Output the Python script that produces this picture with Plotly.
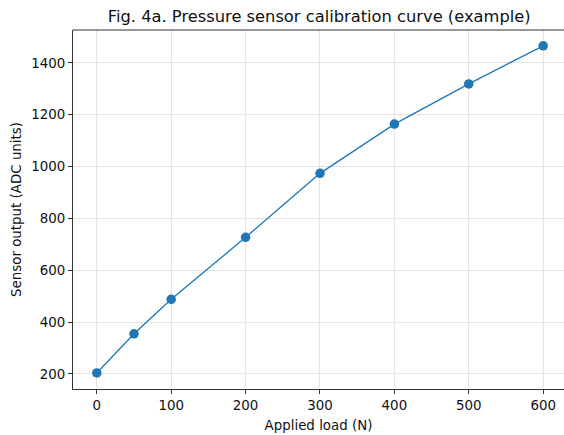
import plotly.graph_objects as go

load_n = [0, 50, 100, 200, 300, 400, 500, 600]
adc_out = [204, 355, 488, 727, 974, 1164, 1319, 1466]
x_ticks = [0, 100, 200, 300, 400, 500, 600]
y_ticks = [200, 400, 600, 800, 1000, 1200, 1400]

fig = go.Figure()
fig.add_trace(go.Scatter(
    x=load_n, y=adc_out, mode="lines+markers",
    line=dict(color="#1f77b4", width=1.3),
    marker=dict(color="#1f77b4", size=9.5),
    showlegend=False,
))

font = "DejaVu Sans, sans-serif"
fig.update_layout(
    width=564, height=435,
    margin=dict(l=73, r=0, t=30, b=46, autoexpand=False),
    paper_bgcolor="white", plot_bgcolor="white",
    font=dict(family=font, size=13.4, color="#111"),
    title=dict(text="Fig. 4a. Pressure sensor calibration curve (example)",
               x=0.566, xanchor="center", y=0.963, yanchor="middle",
               font=dict(size=16.3, color="#111")),
)
fig.update_xaxes(
    range=[-32, 628], tickvals=x_ticks, ticks="outside", ticklen=4, tickcolor="#333",
    showline=True, linecolor="#333", linewidth=1, mirror=False, automargin=False,
    showgrid=True, gridcolor="#e3e3e3", gridwidth=1, zeroline=False,
    title=dict(text="Applied load (N)", standoff=8, font=dict(size=13.4)),
)
fig.update_yaxes(
    range=[142, 1527], tickvals=y_ticks, ticks="outside", ticklen=4, tickcolor="#333",
    showline=True, linecolor="#333", linewidth=1, automargin=False,
    showgrid=True, gridcolor="#e3e3e3", gridwidth=1, zeroline=False,
    title=dict(text="Sensor output (ADC units)", standoff=6, font=dict(size=13.4)),
)
# top spine
fig.add_shape(type="line", xref="paper", yref="paper", x0=0, x1=1, y0=1, y1=1,
              line=dict(color="#333", width=1))

fig.write_html(
    "out.html",
    config={"displayModeBar": False},
    post_script="document.body.style.margin='0';document.body.style.overflow='hidden';",
)
